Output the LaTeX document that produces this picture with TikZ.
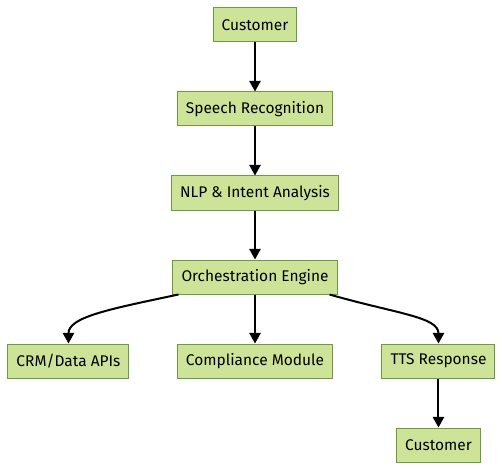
\documentclass[tikz,border=0pt]{standalone}
\usepackage{fontspec}
\setmainfont{Fira Sans}
\usepackage{tikz}
\usetikzlibrary{arrows.meta, positioning}

\definecolor{boxfill}{HTML}{CDE498}
\definecolor{boxline}{HTML}{6B9A45}

\begin{document}
\begin{tikzpicture}[node distance=63pt,on grid,>={Triangle[length=8pt,width=8.5pt]},
        every node/.style={font=\fontsize{11.6pt}{13pt}\selectfont},
        stage/.style={draw=boxline,fill=boxfill,line width=0.75pt,
          minimum height=25.5pt,inner xsep=6.4pt,inner ysep=0pt},
        flow/.style={->,line width=1.5pt}]

      \useasboundingbox (-191.25pt,18.75pt) rectangle (185.25pt,-333.75pt);

      \node[stage] (cust_in)                   {Customer};
      \node[stage] (speech) [below=of cust_in] {Speech Recognition};
      \node[stage] (nlp)    [below=of speech]  {NLP \& Intent Analysis};
      \node[stage] (orch)   [below=of nlp]     {Orchestration Engine};
      \node[stage] (compl)  [below=of orch]    {Compliance Module};
      \node[stage] (crm)    [left=139.9pt of compl]  {CRM/Data APIs};
      \node[stage] (tts)    [right=137.6pt of compl] {TTS Response};
      \node[stage] (cust_out) [below=of tts]   {Customer};

      \path[flow] (cust_in) edge (speech)
                  (speech)  edge (nlp)
                  (nlp)     edge (orch)
                  (orch)    edge (compl)
                  (tts)     edge (cust_out);
      \draw[flow] ([xshift=4.5pt]orch.south west)
          to[out=192,in=90,out distance=52pt,in distance=20pt] (crm.north);
      \draw[flow] ([xshift=-6pt]orch.south east)
          to[out=-16,in=90,out distance=52pt,in distance=20pt] (tts.north);
    \end{tikzpicture}
\end{document}
